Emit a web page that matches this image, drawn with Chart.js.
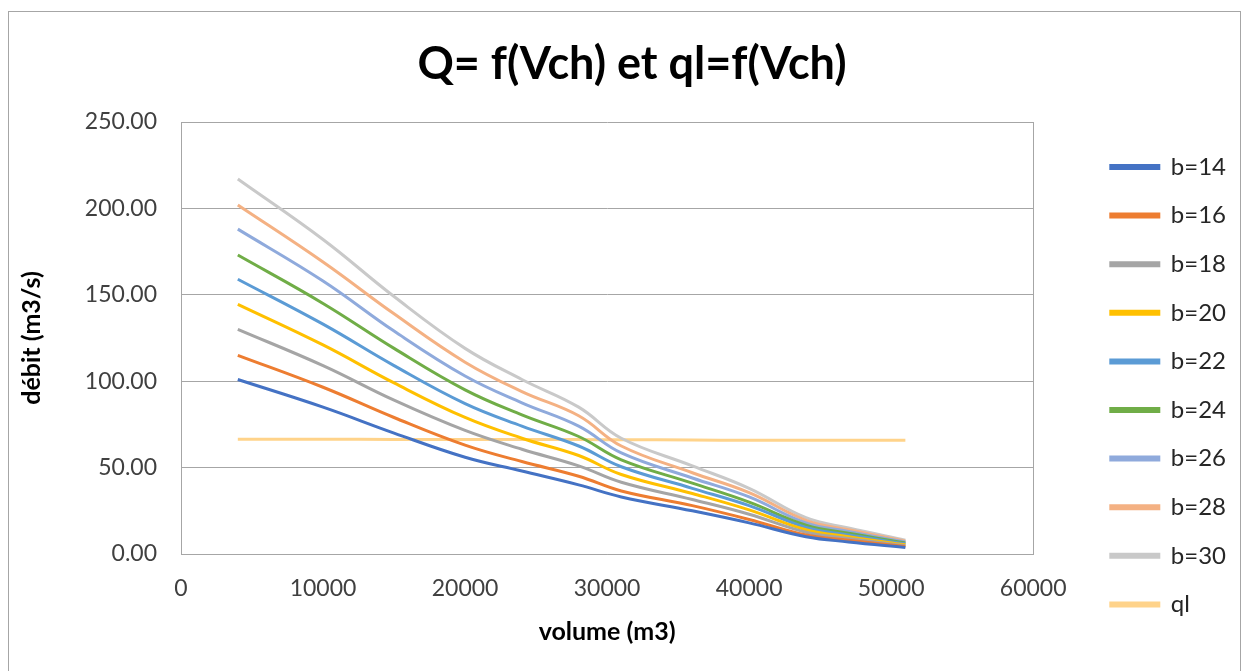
<!DOCTYPE html>
<html>
<head>
<meta charset="utf-8">
<script src="https://cdn.jsdelivr.net/npm/chart.js@4.4.1/dist/chart.umd.min.js"></script>
<style>
  html, body { margin: 0; padding: 0; background: #fff; }
  #wrap { position: relative; width: 1246px; height: 671px; overflow: hidden; }
  #frame { position: absolute; left: 8px; top: 11px; width: 1231px; height: 700px; border: 1px solid #a6a6a6; pointer-events: none; }
  canvas { position: absolute; left: 0; top: 0; }
</style>
</head>
<body>
<div id="wrap">
  <canvas id="chart" width="1246" height="671"></canvas>
  <div id="frame"></div>
</div>
<script>
// volume (m3) of each point
const volume = [4000, 10000, 15000, 20000, 24000, 28000, 31000, 36000, 40000, 44000, 47000, 51000];

// débit (m3/s) for each width b
const b14 = [101, 85, 70, 56, 48, 40, 33, 25, 18, 10, 7, 3.8];
const b16 = [115, 96.5, 79, 63, 53.5, 45, 36.5, 28, 20, 11, 8, 4.3];
const b18 = [130, 109, 89, 71.5, 60.6, 51, 41.5, 31.5, 23, 12.6, 9, 4.8];
const b20 = [144.5, 121, 99, 79, 67, 57, 46, 35, 25.5, 14, 10, 5.3];
const b22 = [159, 133, 109, 87, 74, 62.5, 50.5, 38, 28, 15.4, 11, 5.9];
const b24 = [173, 145, 119, 95, 80.5, 68, 54.5, 41, 30, 16.7, 12, 6.4];
const b26 = [188, 158, 129, 103, 87.5, 74, 58.5, 44, 33, 18, 13, 6.9];
const b28 = [202, 169, 139, 111, 94, 80, 62.5, 47, 35.5, 19.5, 14, 7.4];
const b30 = [217, 182, 149, 119, 101, 85, 67, 51, 38, 21, 15, 8];
const ql = [66.4, 66.4, 66.3, 66.3, 66.2, 66.2, 66.1, 66.0, 65.8, 65.8, 65.8, 65.8];

const seriesNames = ["b=14", "b=16", "b=18", "b=20", "b=22", "b=24", "b=26", "b=28", "b=30", "ql"];
const seriesValues = [b14, b16, b18, b20, b22, b24, b26, b28, b30, ql];
const seriesColors = ["#4472C4", "#ED7D31", "#A5A5A5", "#FFC000", "#5B9BD5", "#70AD47", "#8FAADC", "#F4B183", "#C9C9C9", "#FFD38A"];

const FONT = "Lato, 'Open Sans', sans-serif";

const datasets = seriesNames.map((name, i) => ({
  label: name,
  data: volume.map((v, j) => ({ x: v, y: seriesValues[i][j] })),
  borderColor: seriesColors[i],
  backgroundColor: seriesColors[i],
  borderWidth: 3,
  pointRadius: 0,
  tension: 0.4,
  fill: false
}));

new Chart(document.getElementById("chart"), {
  type: "line",
  data: { datasets },
  options: {
    responsive: false,
    animation: false,
    layout: { padding: { top: 20, right: 10, bottom: 30, left: 28 } },
    plugins: {
      title: {
        display: true,
        text: "Q= f(Vch) et ql=f(Vch)",
        color: "#000",
        font: { family: FONT, size: 45, weight: "bold" },
        padding: { top: 17, bottom: 31 }
      },
      legend: {
        position: "right",
        align: "end",
        labels: {
          boxWidth: 48,
          boxHeight: 3,
          padding: 24.6,
          color: "#262626",
          font: { family: FONT, size: 24 }
        }
      },
      tooltip: { enabled: false }
    },
    scales: {
      x: {
        type: "linear",
        min: 0,
        max: 60000,
        ticks: {
          stepSize: 10000,
          padding: 21,
          color: "#404040",
          font: { family: FONT, size: 23 },
          callback: v => String(v)
        },
        grid: { display: false, drawTicks: false },
        border: { display: true, color: "#a6a6a6", width: 1 },
        title: {
          display: true,
          text: "volume (m3)",
          color: "#000",
          font: { family: FONT, size: 25, weight: "bold" },
          padding: { top: 0, bottom: -6 }
        },
        afterFit: s => { s.height = 87; }
      },
      y: {
        min: 0,
        max: 250,
        ticks: {
          stepSize: 50,
          padding: 24,
          color: "#404040",
          font: { family: FONT, size: 23 },
          callback: v => v.toFixed(2)
        },
        grid: { color: "#a6a6a6", drawTicks: false },
        border: { display: true, color: "#a6a6a6", width: 1 },
        title: {
          display: true,
          text: "débit (m3/s)",
          color: "#000",
          font: { family: FONT, size: 25, weight: "bold" },
          padding: { top: -11, bottom: 0 }
        },
        afterFit: s => { s.width = 153; }
      },
      y2: {
        position: "right",
        min: 0,
        max: 250,
        ticks: { display: false },
        grid: { display: false, drawTicks: false },
        border: { display: true, color: "#a6a6a6", width: 1 },
        afterFit: s => { s.width = 53; }
      }
    }
  }
});
</script>
</body>
</html>
